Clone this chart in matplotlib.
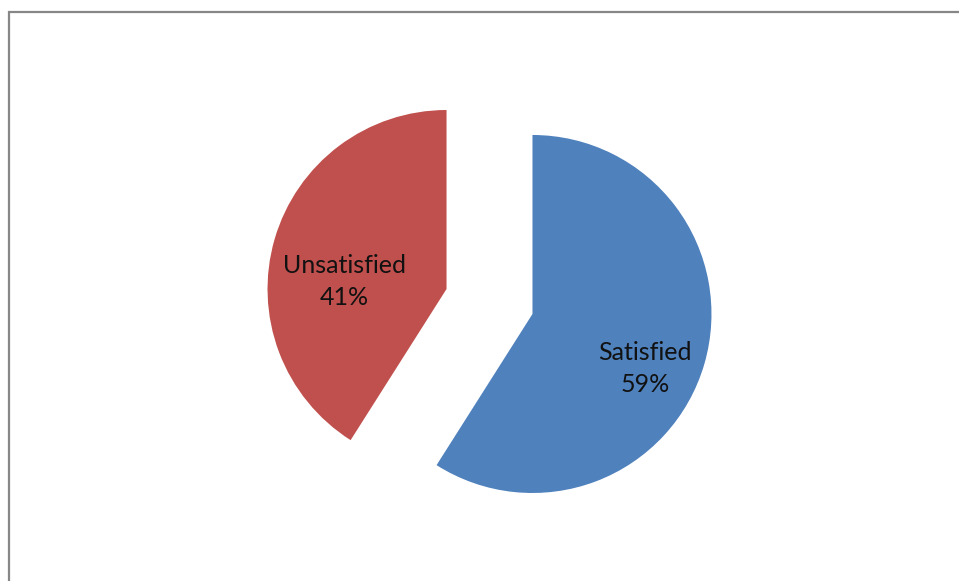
import matplotlib
matplotlib.use('Agg')
from matplotlib import pyplot as plt
from matplotlib.patches import Rectangle
import numpy as np


labels = ['Satisfied', 'Unsatisfied']
shares = [59, 41]
colors = ['#4F81BD', '#C0504D']
explode = [0.25, 0.25]

# where the label sits inside each wedge: (distance from wedge centre, angle offset in degrees)
label_place = [(0.70, -9.5), (0.57, 12.0)]

W, H = 959, 581
R_PX = 179.0
CX, CY = 489.5, 301.5  # pie centre, pixels from top-left


def main():
    fig = plt.figure(figsize=(W / 100, H / 100), dpi=100)
    ax = fig.add_axes([0, 0, 1, 1])

    wedges, _ = ax.pie(
        shares,
        colors=colors,
        explode=explode,
        startangle=90,
        counterclock=False,
        wedgeprops=dict(linewidth=0),
    )

    ax.set_xlim(-CX / R_PX, (W - CX) / R_PX)
    ax.set_ylim(-(H - CY) / R_PX, CY / R_PX)
    ax.set_aspect('auto')
    ax.axis('off')

    for wedge, label, share, (dist, dang) in zip(wedges, labels, shares, label_place):
        mid = np.deg2rad((wedge.theta1 + wedge.theta2) / 2 + dang)
        cx, cy = wedge.center
        ax.text(
            cx + dist * np.cos(mid), cy + dist * np.sin(mid),
            f'{label}\n{share}%',
            ha='center', va='center', fontsize=18, family='Lato',
            color='#111111', linespacing=1.45,
        )

    # chart-area frame, its right and bottom edges run off the picture
    fig.add_artist(Rectangle(
        (9 / W, -0.1), 1.2, (H - 12) / H + 0.1,
        transform=fig.transFigure, fill=False,
        edgecolor='#878787', linewidth=1.6,
    ))

    fig.savefig('out.png', dpi=100, facecolor='white')


if __name__ == '__main__':
    main()
